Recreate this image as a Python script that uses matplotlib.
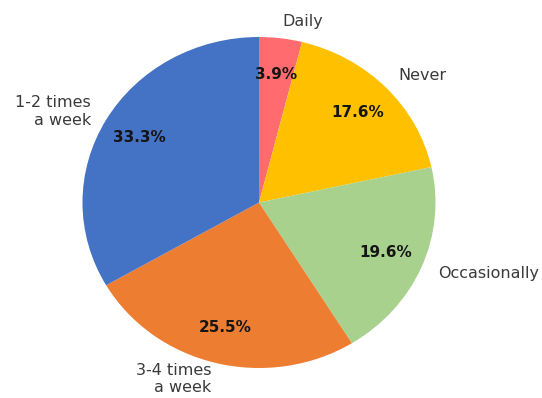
"""Pie chart of how often respondents do the activity."""

import matplotlib

matplotlib.use("Agg")
import matplotlib.pyplot as plt

CATEGORIES = ["Daily", "Never", "Occasionally", "3-4 times\na week", "1-2 times\na week"]
COUNTS = [2, 9, 10, 13, 17]
COLORS = ["#FF6B6E", "#FFC000", "#A9D18E", "#ED7D31", "#4472C4"]


def main() -> None:
    fig = plt.figure(figsize=(5.42, 3.98), dpi=100)
    ax = fig.add_axes([82.5 / 542, 30 / 398, 353 / 542, 331 / 398])

    wedges, texts, autotexts = ax.pie(
        COUNTS,
        labels=CATEGORIES,
        colors=COLORS,
        autopct="%1.1f%%",
        startangle=90,
        counterclock=False,
        pctdistance=0.78,
        labeldistance=1.1,
        textprops={"fontsize": 11.5},
    )
    for t in texts:
        t.set_color("#3a3a3a")
    for t in autotexts:
        t.set_fontsize(11)
        t.set_fontweight("bold")
        t.set_color("#151515")

    # the reference is slightly stretched horizontally
    ax.set_aspect("auto")
    ax.set_xlim(-1, 1)
    ax.set_ylim(-1, 1)

    fig.savefig("out.png", dpi=100)
    plt.close(fig)


if __name__ == "__main__":
    main()
